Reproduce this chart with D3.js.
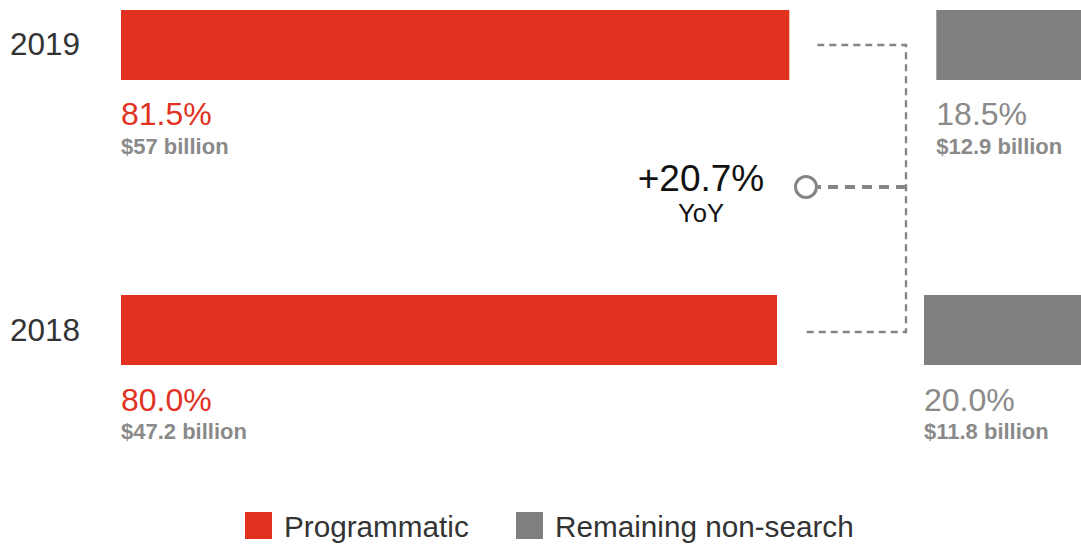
<!DOCTYPE html>
<html>
<head>
<meta charset="utf-8">
<script src="https://cdn.jsdelivr.net/npm/d3@7/dist/d3.min.js"></script>
<style>
  html, body { margin: 0; padding: 0; background: #fff; overflow: hidden; }
  svg { display: block; font-family: "Liberation Sans", Arial, Helvetica, sans-serif; }
</style>
</head>
<body>
<svg id="chart" width="1081" height="544"></svg>
<script>
// ---- data ----
const years = ["2019", "2018"];
const programmaticPct = [81.5, 80.0];
const remainingPct = [18.5, 20.0];
const programmaticLabels = ["81.5%", "80.0%"];
const remainingLabels = ["18.5%", "20.0%"];
const programmaticBillions = ["$57 billion", "$47.2 billion"];
const remainingBillions = ["$12.9 billion", "$11.8 billion"];
const yoyValue = "+20.7%";
const yoyLabel = "YoY";
const seriesNames = ["Programmatic", "Remaining non-search"];

// ---- styles ----
const RED = "#E0321F";
const GRAY = "#7F7F7F";
const TEXT_GRAY = "#8A8A8A";
const DASH_GRAY = "#858585";

const svg = d3.select("#chart");

const x = d3.scaleLinear().domain([0, 100]).range([121, 941]);
const w = d3.scaleLinear().domain([0, 100]).range([0, 820]);
const gap = 147;
const y = d3.scaleBand().domain(years).range([10, 365]).paddingInner(0.7544).paddingOuter(0);
const color = d3.scaleOrdinal().domain(seriesNames).range([RED, GRAY]);

const rows = years.map((yr, i) => ({
  year: yr, p: programmaticPct[i], r: remainingPct[i],
  pl: programmaticLabels[i], rl: remainingLabels[i],
  pb: programmaticBillions[i], rb: remainingBillions[i]
}));

const g = svg.append("g");

// bars
g.selectAll("rect.prog").data(rows).join("rect")
  .attr("class", "prog")
  .attr("x", x(0)).attr("y", d => y(d.year))
  .attr("width", d => w(d.p)).attr("height", y.bandwidth())
  .attr("fill", color(seriesNames[0]));

g.selectAll("rect.rem").data(rows).join("rect")
  .attr("class", "rem")
  .attr("x", d => x(d.p) + gap).attr("y", d => y(d.year))
  .attr("width", d => w(d.r)).attr("height", y.bandwidth())
  .attr("fill", color(seriesNames[1]));

// year labels
g.selectAll("text.year").data(rows).join("text")
  .attr("class", "year")
  .attr("x", 10).attr("y", d => y(d.year) + y.bandwidth() / 2 + 10.5)
  .attr("font-size", 31.5).attr("fill", "#333")
  .text(d => d.year);

// value labels
g.selectAll("text.ppct").data(rows).join("text")
  .attr("x", x(0)).attr("y", d => y(d.year) + y.bandwidth() + 45.5)
  .attr("font-size", 32).attr("fill", RED)
  .text(d => d.pl);
g.selectAll("text.pbil").data(rows).join("text")
  .attr("x", x(0)).attr("y", d => y(d.year) + y.bandwidth() + 74)
  .attr("font-size", 22).attr("font-weight", "bold").attr("fill", TEXT_GRAY)
  .text(d => d.pb);
g.selectAll("text.rpct").data(rows).join("text")
  .attr("x", d => x(d.p) + gap).attr("y", d => y(d.year) + y.bandwidth() + 45.5)
  .attr("font-size", 32).attr("fill", TEXT_GRAY)
  .text(d => d.rl);
g.selectAll("text.rbil").data(rows).join("text")
  .attr("x", d => x(d.p) + gap).attr("y", d => y(d.year) + y.bandwidth() + 74)
  .attr("font-size", 22).attr("font-weight", "bold").attr("fill", TEXT_GRAY)
  .text(d => d.rb);

// connectors
const vx = 906;
const yTop = y(years[0]) + y.bandwidth() / 2;
const yBot = y(years[1]) + y.bandwidth() / 2 + 2;
const path = d3.path();
path.moveTo(x(rows[0].p) + 28, yTop);
path.lineTo(vx, yTop);
path.lineTo(vx, yBot);
path.lineTo(x(rows[1].p) + 26, yBot);
g.append("path").attr("d", path.toString())
  .attr("fill", "none").attr("stroke", DASH_GRAY)
  .attr("stroke-width", 2.4).attr("stroke-dasharray", "7,5");

const midY = (yTop + yBot) / 2 - 1.5;
const cx = 806;
g.append("line")
  .attr("x1", vx).attr("x2", cx + 12).attr("y1", midY).attr("y2", midY)
  .attr("stroke", DASH_GRAY).attr("stroke-width", 4).attr("stroke-dasharray", "10,7");
g.append("circle")
  .attr("cx", cx).attr("cy", midY).attr("r", 10.5)
  .attr("fill", "#fff").attr("stroke", DASH_GRAY).attr("stroke-width", 3);

g.append("text").attr("x", 701).attr("y", midY + 4).attr("text-anchor", "middle")
  .attr("font-size", 37).attr("fill", "#111").text(yoyValue);
g.append("text").attr("x", 701).attr("y", midY + 35).attr("text-anchor", "middle")
  .attr("font-size", 25.5).attr("fill", "#111").text(yoyLabel);

// legend
const legendX = [245, 516];
const lg = svg.append("g");
seriesNames.forEach((name, i) => {
  lg.append("rect").attr("x", legendX[i]).attr("y", 512)
    .attr("width", 27).attr("height", 27).attr("fill", color(name));
  lg.append("text").attr("x", legendX[i] + 39).attr("y", 537)
    .attr("font-size", 29.7).attr("fill", "#333").text(name);
});
</script>
</body>
</html>
